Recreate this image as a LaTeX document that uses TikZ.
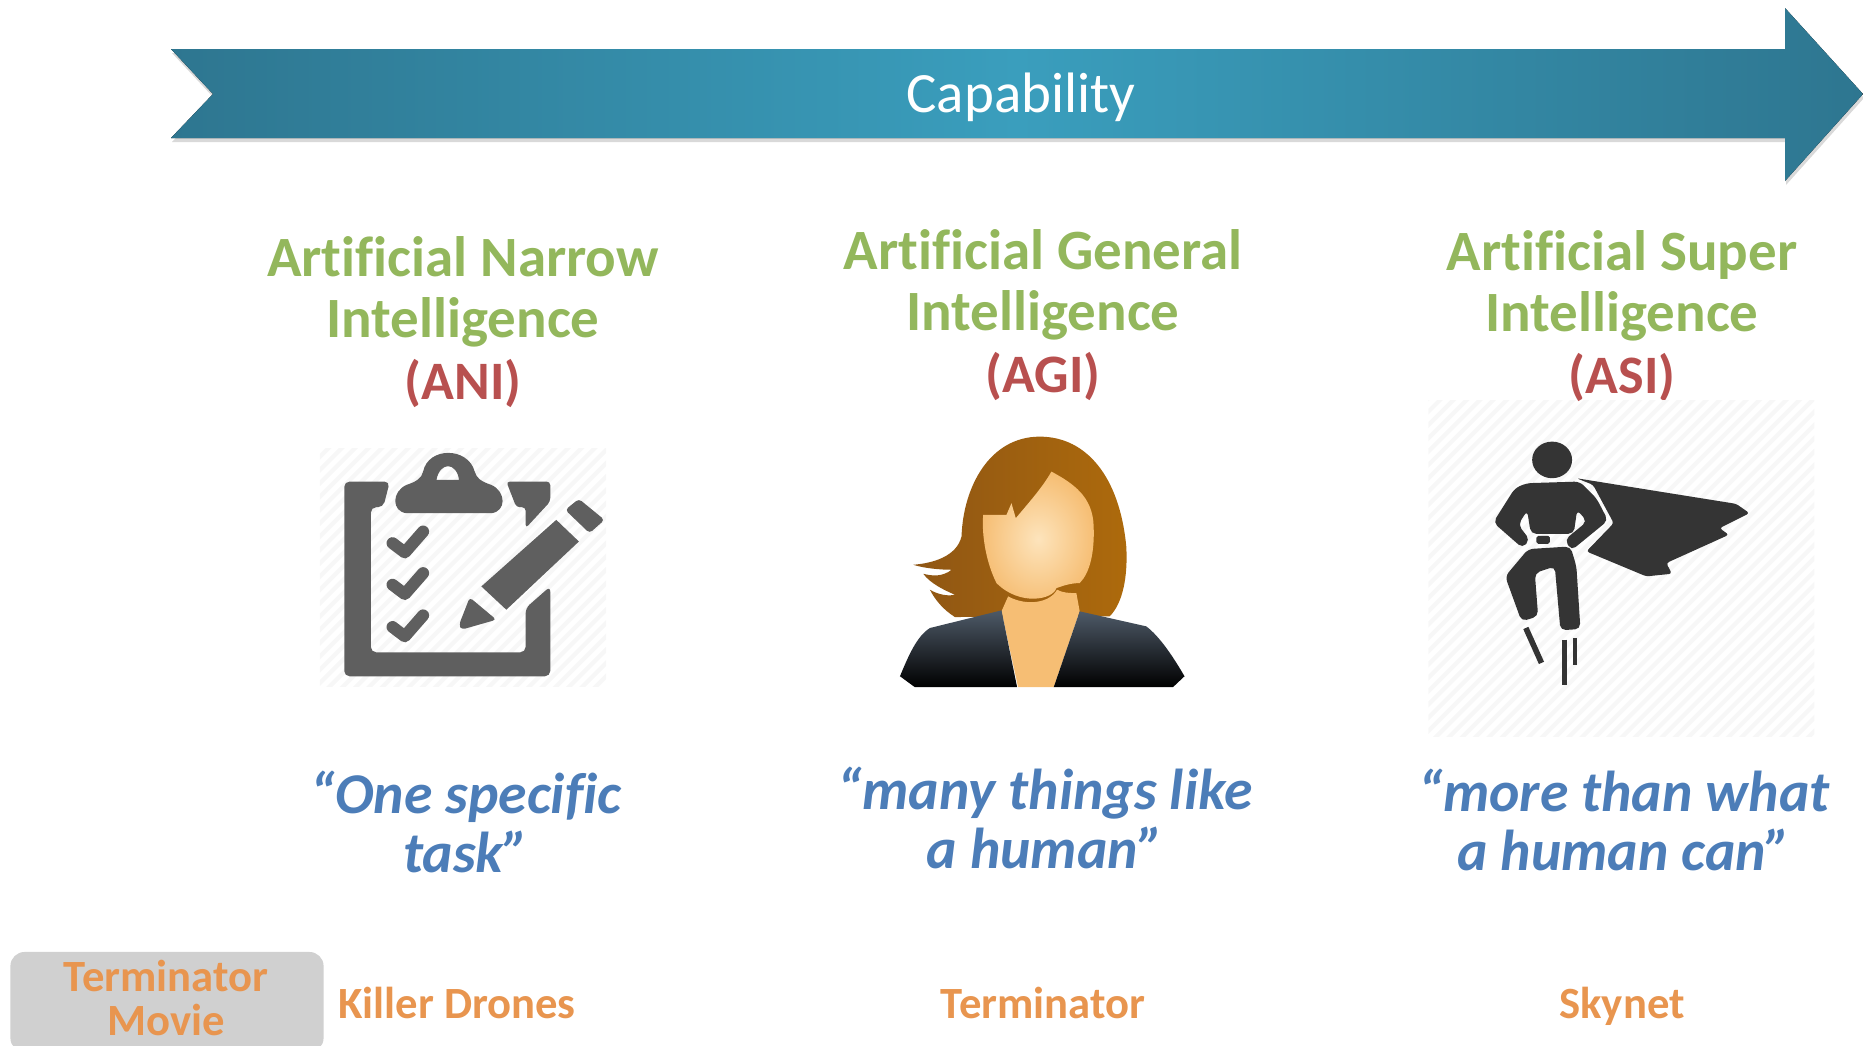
\documentclass[tikz,border=0pt]{standalone}
\usepackage{xcolor}
\usepackage{fontspec}
\setmainfont[Ligatures = NoCommon]{Carlito}
\usepackage{tikz}
\usetikzlibrary{positioning, calc, shadows}

\definecolor{capdark}{HTML}{2E7690}
\definecolor{caplight}{HTML}{3A9EBD}
\definecolor{titlegreen}{HTML}{93B75C}
\definecolor{abbrred}{HTML}{B8504F}
\definecolor{quoteblue}{HTML}{4C7DB8}
\definecolor{movieorange}{HTML}{E8954F}
\definecolor{moviegrey}{HTML}{D0D0D0}
\definecolor{iconclip}{HTML}{5F5F5F}
\definecolor{iconhero}{HTML}{343434}
\definecolor{hairdark}{HTML}{8F5614}
\definecolor{hairbrown}{HTML}{AD6A0C}
\definecolor{skinlight}{HTML}{FDE4BC}
\definecolor{skindark}{HTML}{F6BE74}
\definecolor{jackettop}{HTML}{4E5A68}

\newcommand{\abbr}[1]{{\fontsize{15.4}{17.5}\selectfont\textcolor{abbrred}{#1}}}

\tikzset{
    title/.style = {text = titlegreen, align = center,
        font = \fontsize{16.2}{17.5}\selectfont\bfseries},
    saying/.style = {text = quoteblue, align = center,
        font = \fontsize{16.4}{16.9}\selectfont\bfseries\itshape},
    movie/.style = {text = movieorange, align = center,
        font = \fontsize{12.7}{12.6}\selectfont\bfseries},
    hatch/.style = {draw = black!3, line width = 1.2pt},
    zoomed/.style = {x = 0.003333cm, y = -0.003333cm}
}

\begin{document}
\begin{tikzpicture}[x = 0.01cm, y = -0.01cm]
        \useasboundingbox (0,0) rectangle (1863,1045);
        \clip (0,0) rectangle (1863,1045);

        % capability arrow
        \fill [left color = capdark, right color = capdark, middle color = caplight,
        drop shadow = {shadow xshift = 0.01cm, shadow yshift = -0.04cm, opacity = 0.3}]
        (171,49) -- (1785,49) -- (1785,8) -- (1863,94) -- (1785,181)
        -- (1785,138) -- (171,138) -- (213,94) -- cycle;
        \node (capability) [text = white, font = \fontsize{16.2}{18}\selectfont] at (1021,97)
        {Capability};

        % titles
        \node (ani) [title] at (463,322) {Artificial Narrow\\Intelligence\\
        \abbr{(ANI)}};
        \node (agi) [title] at (1043,315) {Artificial General\\Intelligence\\
        \abbr{(AGI)}};
        \node (asi) [title] at (1622,316) {Artificial Super\\Intelligence\\
        \abbr{(ASI)}};

        % clipboard
        \begin{scope}[shift = {(300,430)}, zoomed]
            \begin{scope}
                \clip (60,55) rectangle (920,770);
                \foreach \hx in {-800,-760,...,1000}
                    \draw [hatch] (\hx,780) -- ++ (750,-750);
            \end{scope}
            \fill [iconclip, rounded corners = 1.5pt] (270,155) -- (133,155) -- (133,740)
            -- (752,740) -- (752,470) -- (678,535) -- (678,668) -- (213,668)
            -- (213,232) -- (250,232) -- cycle;
            \fill [iconclip, rounded corners = 1pt] (620,155) -- (752,155) -- (752,215)
            -- (678,295) -- (678,232) -- (650,232) -- cycle;
            \fill [iconclip, even odd rule] (320,250) .. controls (275,245) and (275,185) ..
            (320,165) .. controls (350,155) and (365,145) .. (370,125)
            .. controls (385,50) and (505,50) .. (525,125)
            .. controls (530,145) and (545,155) .. (575,165)
            .. controls (620,185) and (620,245) .. (575,250) -- cycle
            (410,150) .. controls (420,95) and (470,95) .. (478,150) -- cycle;
            \foreach \cy in {0,125,252}
                \draw [iconclip, line width = 3.4pt, line cap = round, line join = round]
                (278,340+\cy) -- (315,368+\cy) -- (370,305+\cy);
            \fill [iconclip] (770,270) -- (838,335) -- (620,540) -- (545,470) -- cycle;
            \fill [iconclip, rounded corners = 1pt] (838,207) -- (915,270) -- (870,310)
            -- (797,240) -- cycle;
            \fill [iconclip, rounded corners = 1pt] (510,503) -- (590,570) -- (485,600)
            -- (478,585) -- cycle;
        \end{scope}

        % woman
        \begin{scope}[shift = {(880,420)}, zoomed]
            \shade [left color = hairdark, right color = hairbrown]
            (480,50) .. controls (620,50) and (720,170) .. (740,380)
            .. controls (745,470) and (730,550) .. (690,590) -- (225,592)
            .. controls (190,570) and (165,540) .. (150,510)
            .. controls (175,525) and (205,530) .. (225,525)
            .. controls (190,510) and (150,490) .. (130,462)
            .. controls (160,470) and (190,470) .. (215,450)
            .. controls (180,450) and (130,445) .. (100,435)
            .. controls (160,430) and (230,410) .. (245,350)
            .. controls (250,200) and (330,50) .. (480,50) -- cycle;
            \shade [inner color = skinlight, outer color = skindark]
            (310,285) -- (380,285) -- (395,250) -- (408,295) .. controls (450,245) and (490,200) ..
            (515,155) .. controls (580,190) and (640,230) .. (642,320)
            .. controls (645,400) and (630,460) .. (600,490)
            .. controls (570,490) and (545,500) .. (530,505)
            .. controls (520,540) and (420,560) .. (350,490)
            .. controls (320,430) and (305,350) .. (310,285) -- cycle;
            \fill [skindark] (385,530) .. controls (440,560) and (510,550) .. (532,510)
            .. controls (550,520) and (570,520) .. (590,520) -- (600,575) -- (522,803)
            -- (415,803) -- (365,575) -- cycle;
            \shade [top color = jackettop, bottom color = black]
            (365,572) -- (150,625) .. controls (110,650) and (85,710) .. (60,770)
            -- (105,803) -- (412,803) -- cycle;
            \shade [top color = jackettop, bottom color = black]
            (600,575) -- (800,620) .. controls (840,650) and (880,710) .. (915,770)
            -- (880,803) -- (522,803) -- cycle;
        \end{scope}

        % superhero
        \begin{scope}[shift = {(1420,400)}, zoomed]
            \begin{scope}
                \clip (25,0) rectangle (1185,1010);
                \foreach \hx in {-1200,-1160,...,1300}
                    \draw [hatch] (\hx,1020) -- ++ (1100,-1100);
            \end{scope}
            \fill [iconhero] (397,180) ellipse [x radius = 60, y radius = 55];
            \fill [iconhero, rounded corners = 1.5pt] (320,250) -- (480,245) -- (530,295)
            -- (565,362) -- (455,452) -- (435,420) -- (502,365) -- (472,330) -- (462,402)
            -- (333,402) -- (322,332) -- (295,375) -- (330,420) -- (308,445)
            -- (220,368) -- (285,265) -- cycle;
            \fill [iconhero, rounded corners = 0.5pt] (350,408) -- (390,408) -- (390,432)
            -- (350,432) -- cycle;
            \fill [iconhero, rounded corners = 1.5pt] (325,448) -- (452,440) -- (470,500)
            -- (482,688) -- (422,692) -- (405,500) -- (345,520) -- (355,650) -- (305,665)
            -- (256,530) -- cycle;
            \fill [iconhero, rounded corners = 0.8pt] (470,235) -- (700,272) -- (950,312)
            -- (990,340) -- (900,385) -- (928,405) -- (740,490) -- (757,522) -- (680,530)
            -- (500,455) -- (582,370) -- (520,255) -- cycle;
            \draw [iconhero, line width = 1.6pt] (318,685) -- (365,790);
            \draw [iconhero, line width = 1.6pt] (434,720) -- (434,855);
            \draw [iconhero, line width = 1.1pt] (467,715) -- (467,795);
        \end{scope}

        % sayings
        \node (onespecific) [saying] at (466,822) {“One specific\\task”};
        \node (manythings) [saying] at (1045,818) {“many things like\\a human”};
        \node (morethan) [saying] at (1624,820) {“more than what\\a human can”};

        % bottom row
        \node (moviebox) [fill = moviegrey, rounded corners = 4pt, minimum width = 3.13 cm,
        minimum height = 1.0 cm] at (167,1002) {};
        \node (terminatormovie) [movie] at (166,998) {Terminator\\Movie};
        \node (killerdrones) [movie, anchor = base] at (457,1018) {Killer Drones};
        \node (terminator) [movie, anchor = base] at (1043,1018) {Terminator};
        \node (skynet) [movie, anchor = base] at (1622,1018) {Skynet};
    \end{tikzpicture}
\end{document}
